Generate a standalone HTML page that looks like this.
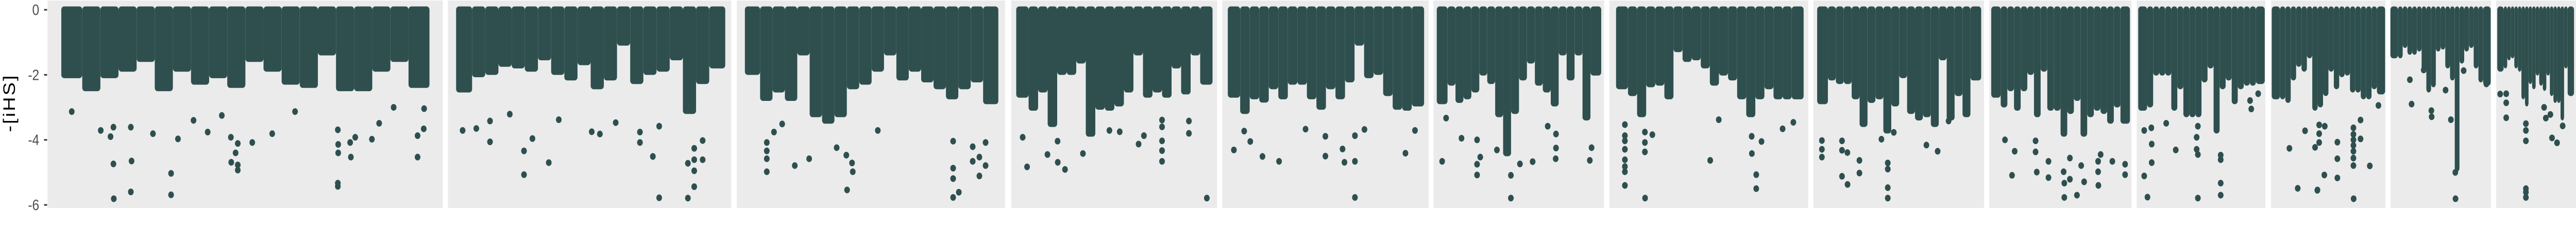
<!DOCTYPE html>
<html><head><meta charset="utf-8"><title>iHS facets</title>
<style>html,body{margin:0;padding:0;background:#fff;overflow:hidden;width:100%;height:100%;}svg{display:block;width:100vw;height:100vh;}</style></head>
<body>
<svg id="chart" viewBox="0 0 5905 472" preserveAspectRatio="none" xmlns="http://www.w3.org/2000/svg" font-family="'Liberation Sans', sans-serif">
<text x="0" y="0" transform="translate(34,200) rotate(-90)" text-anchor="middle" font-size="38" letter-spacing="3" fill="#000">-[iHS]</text>
<g id="yaxis"></g>
<g id="panels"></g>
</svg>
<script>
// ---- data ----
const yTicks = [0, -2, -4, -6];
const yTickLabels = ["0", "-2", "-4", "-6"];
const binIndex = [0,1,2,3,4,5,6,7,8,9,10,11,12,13,14,15,16,17,18,19];
const depth1 = [-2.0,-2.4,-2.0,-1.8,-1.5,-2.4,-1.8,-2.2,-2.0,-2.3,-1.5,-1.8,-2.2,-2.3,-1.3,-2.4,-2.4,-1.8,-1.5,-2.3];
const depth2 = [-2.44,-1.97,-1.9,-1.65,-1.7,-1.8,-1.45,-1.9,-2.07,-1.6,-2.34,-2.07,-1.0,-2.18,-1.9,-1.8,-1.45,-3.1,-2.18,-1.7];
const depth3 = [-1.9,-2.7,-2.44,-2.7,-1.3,-3.2,-3.4,-3.2,-2.34,-2.2,-1.8,-1.3,-2.07,-1.8,-2.13,-2.34,-2.65,-2.34,-2.13,-2.8];
const depth4 = [-2.6,-3.0,-2.44,-3.5,-1.9,-1.9,-1.55,-3.8,-2.97,-3.0,-2.87,-2.44,-1.3,-2.6,-2.44,-2.6,-1.7,-2.5,-1.3,-2.2];
const depth5 = [-2.6,-3.1,-2.65,-2.75,-2.34,-2.65,-2.2,-2.2,-2.65,-2.97,-2.34,-2.65,-2.13,-1.0,-2.0,-1.9,-2.55,-2.97,-3.0,-2.87];
const depth6 = [-2.8,-2.23,-2.76,-2.65,-2.44,-1.92,-2.18,-3.2,-4.4,-3.1,-2.07,-1.55,-2.23,-2.44,-2.87,-1.3,-2.07,-1.3,-3.3,-1.92];
const depth7 = [-2.34,-2.55,-3.2,-2.28,-2.23,-2.65,-1.2,-1.5,-1.45,-1.7,-2.23,-1.92,-2.07,-2.65,-3.2,-2.65,-2.34,-2.65,-2.65,-2.65];
const depth8 = [-2.8,-2.07,-2.18,-2.18,-2.65,-3.5,-2.76,-2.65,-3.7,-2.87,-2.0,-3.1,-3.3,-3.2,-3.5,-1.45,-3.3,-2.55,-3.2,-2.07];
const depth9 = [-2.6,-2.9,-2.4,-3.0,-2.4,-1.9,-3.2,-1.8,-3.0,-3.0,-3.8,-3.1,-2.7,-3.8,-3.2,-3.0,-3.1,-3.4,-2.9,-3.4];
const depth10 = [-3.0,-2.9,-1.92,-1.92,-1.92,-3.0,-2.34,-3.2,-3.2,-3.2,-2.13,-1.7,-3.7,-2.34,-2.07,-2.8,-2.34,-2.23,-2.23,-2.18];
const depth11 = [-2.65,-2.65,-2.76,-2.07,-1.65,-1.8,-1.39,-3.0,-2.9,-2.55,-1.8,-2.34,-1.97,-1.92,-2.44,-2.44,-2.65,-2.65,-2.34,-2.5];
const depth12 = [-1.39,-1.39,-1.07,-1.28,-1.28,-1.18,-1.8,-2.44,-2.28,-1.18,-1.12,-1.7,-2.07,-4.87,-1.55,-1.18,-1.07,-1.7,-2.13,-2.23];
const depth13 = [-1.8,-1.7,-1.45,-1.39,-1.7,-1.8,-2.65,-2.87,-2.18,-2.34,-1.92,-2.23,-2.39,-1.92,-2.55,-2.76,-2.76,-3.3,-1.7,-2.55];

const outPos1 = [13.7,18.4,18.6,13.6,29.5,29.5,75.5,75.5,75.6,75.6,79.1,97.5,97.5,99.2,47.9,47.9,46.1,47.3,47.9,51.9,46.0,31.4,24.5,10.1,12.8,13.6,18.4,39.6,57.4,80.3,84.9,86.9,75.5,78.9,2.1,63.7,99.3,90.9,43.5,35.7];
const outVal1 = [-5.81,-5.6,-4.65,-4.74,-5.03,-5.69,-5.43,-5.33,-4.4,-4.14,-4.53,-4.53,-3.87,-3.66,-4.93,-4.77,-4.69,-4.4,-4.11,-4.08,-3.92,-3.97,-3.81,-3.71,-3.9,-3.61,-3.61,-3.76,-3.81,-3.92,-3.98,-3.49,-3.69,-4.08,-3.13,-3.13,-3.04,-3.0,-3.25,-3.4];
const outPos2 = [76,86.9,89.3,89.3,86.9,89.3,92.5,89.3,92.5,73.6,24.7,24.7,34.1,27.9,11.8,68.7,68.7,1.4,6.6,53.5,50.4,76,37.9,59.5,11.8,19.3];
const outVal2 = [-5.78,-5.79,-5.44,-4.95,-4.72,-4.61,-4.61,-4.26,-4.02,-4.51,-5.07,-4.34,-4.70,-3.96,-4.06,-4.08,-3.76,-3.71,-3.65,-3.82,-3.75,-3.58,-3.38,-3.47,-3.42,-3.21];
const outPos3 = [40.1,82.9,82.9,82.9,85.2,93.5,90.8,93.5,96.0,90.8,96.0,42.4,42.1,39.8,82.9,52.5,35.9,7.7,7.7,7.7,7.7,19.0,24.8,10.6,13.9];
const outVal3 = [-5.54,-5.77,-5.19,-4.87,-5.61,-5.11,-4.66,-4.53,-4.79,-4.21,-4.08,-4.98,-4.71,-4.47,-4.04,-3.71,-4.24,-4.98,-4.58,-4.34,-4.08,-4.79,-4.58,-3.76,-3.51];
const outPos4 = [98.5,75,75,75,75,75,24.1,20.3,14.9,4.2,1.9,33.5,62.7,65.5,89.1,89.1,20.2,47.4,52.8];
const outVal4 = [-5.79,-4.66,-4.33,-4.03,-3.6,-3.39,-4.91,-4.69,-4.45,-4.83,-3.92,-4.42,-4.13,-3.87,-3.8,-3.42,-4.04,-3.71,-3.75];
const outPos5 = [65.2,59.7,65.2,58.7,49.7,25.4,16.7,1.7,10.3,49.7,65.2,91.7,96.7,7.1,39.3,70.2];
const outVal5 = [-5.77,-4.69,-4.66,-4.28,-4.5,-4.66,-4.51,-4.31,-4.05,-3.89,-3.87,-4.41,-3.71,-3.73,-3.67,-3.68];
const outPos6 = [44.9,44.9,23.6,23.6,25.6,50.6,58.6,1.6,36.1,73.1,73.3,94.6,95.7,73.3,23.6,13.8,4.1,68.1];
const outVal6 = [-5.79,-5.09,-5.08,-4.75,-4.53,-4.74,-4.67,-4.66,-4.31,-4.58,-4.25,-4.63,-4.24,-3.82,-4.0,-3.95,-3.33,-3.58];
const outPos7 = [14.4,3.3,3.3,3.3,3.3,3.3,3.3,3.3,14.3,14.3,14.3,18.4,75.5,75.5,73.1,73,78.4,50.2,54.9,95.9,90,3.3];
const outVal7 = [-5.79,-5.4,-4.98,-4.82,-4.61,-4.29,-4.03,-3.87,-4.37,-4.08,-3.76,-3.84,-5.5,-5.07,-4.42,-3.89,-4.05,-4.63,-3.38,-3.46,-3.66,-3.53];
const outPos8 = [42.8,42.8,42.8,42.8,17.4,13.9,24.9,24.9,17.3,13.9,13.9,1.2,1.2,1.2,38.8,67.2,74.3,46.6,81.2];
const outVal8 = [-5.79,-5.47,-4.9,-4.71,-5.37,-5.12,-5.02,-4.63,-4.39,-4.32,-4.03,-4.53,-4.29,-4.02,-3.98,-4.16,-4.35,-3.77,-3.42];
const outPos9 = [52.8,62.3,52.8,57,67.7,78.4,13.5,32.1,40.9,40.9,52.3,78.2,98.5,98.5,65.5,78.2,80.1,88.9,57,15.5,31.2,8.2,31.2];
const outVal9 = [-5.77,-5.7,-5.33,-5.21,-5.29,-5.4,-5.09,-4.99,-5.16,-4.66,-4.98,-4.98,-5.07,-4.75,-4.79,-4.66,-4.45,-4.66,-4.56,-4.35,-4.37,-4.0,-4.03];
const outPos10 = [5.3,47,65.9,65.9,2.6,8.8,8.8,2.6,8.5,28.7,47,46,46,47,65.9,65.9,90.2,91.2,96.9,20.8];
const outVal10 = [-5.76,-5.79,-5.7,-5.33,-5.11,-4.7,-4.13,-3.71,-3.63,-4.31,-4.45,-4.29,-3.92,-3.58,-4.61,-4.47,-2.79,-3.05,-2.58,-3.49];
const outPos11 = [73.4,39.8,46.2,58.3,58.3,58.3,73.2,73.2,73.2,73.2,73.2,73.2,73.2,88.4,79.8,37.6,41.4,41.4,41.4,46.6,79.8,96.4,21.5,39.7,28.3,13.8];
const outVal11 = [-5.81,-5.54,-5.08,-5.17,-4.58,-4.07,-4.79,-4.56,-4.35,-4.17,-4.0,-3.83,-3.63,-4.8,-3.97,-4.23,-4.08,-3.81,-3.54,-3.58,-3.39,-2.94,-5.49,-5.55,-3.72,-4.26];
const outPos12 = [65.8,65.6,40.6,40.3,19.4,17.6,55.3,60.9,32.2,74.4,98.4];
const outVal12 = [-5.81,-5.0,-3.29,-3.1,-2.9,-2.15,-2.47,-3.38,-1.85,-1.87,-2.28];
const outPos13 = [36.3,36.3,36.3,36.3,36.3,36.3,8.6,8.6,8.6,0.1,73,80.1,61.9,64.3,70.7,88,99.3];
const outVal13 = [-5.77,-5.61,-5.5,-4.03,-3.71,-3.5,-3.32,-2.86,-2.58,-2.59,-3.94,-4.09,-3.0,-3.33,-3.22,-3.57,-2.44];

const depths = [depth1,depth2,depth3,depth4,depth5,depth6,depth7,depth8,depth9,depth10,depth11,depth12,depth13];
const outPos = [outPos1,outPos2,outPos3,outPos4,outPos5,outPos6,outPos7,outPos8,outPos9,outPos10,outPos11,outPos12,outPos13];
const outVal = [outVal1,outVal2,outVal3,outVal4,outVal5,outVal6,outVal7,outVal8,outVal9,outVal10,outVal11,outVal12,outVal13];

// ---- layout ----
const panelL = [109,1027,1689,2318,2802,3286,3689,4157,4560,4898,5206,5480,5722];
const panelR = [1015,1676,2304,2790,3275,3677,4145,4548,4886,5193,5468,5710,5905];
const dataL = [147,1052,1714,2336,2821,3300,3711,4172,4571,4908,5214,5486,5731];
const dataR = [978,1656,2282,2773,3258,3664,4128,4535,4876,5185,5461,5703,5894];
const PT = 1, PB = 404, R = 6.5, COL = "#2F4F4F";
const NS = "http://www.w3.org/2000/svg";
function yScale(v){ return 19 + (0 - v) * 63.17; }
function xScale(p, pos){ return dataL[p] + (dataR[p]-dataL[p]) * pos / 100; }
function mk(tag, attrs){ const e = document.createElementNS(NS, tag); for (const k in attrs) e.setAttribute(k, attrs[k]); return e; }

const yaxis = document.getElementById('yaxis');
yTicks.forEach((t,i)=>{
  const tk = mk('line',{x1:101,x2:108,y1:yScale(t),y2:yScale(t),stroke:'#333',"stroke-width":3});
  
  
  yaxis.appendChild(tk);
  const lb = mk('text',{x:90,y:yScale(t)+10,"text-anchor":"end","font-size":29,fill:'#4D4D4D'});
  lb.textContent = yTickLabels[i];
  
  
  yaxis.appendChild(lb);
});

const panels = document.getElementById('panels');
for (let p=0; p<panelL.length; p++){
  const g = mk('g',{});
  
  
  const bg = mk('rect',{x:panelL[p],y:PT,width:panelR[p]-panelL[p],height:PB-PT,fill:'#EBEBEB'});
  
  
  g.appendChild(bg);
  const d = depths[p];
  binIndex.forEach(i=>{
    let x0 = xScale(p, i*5) - (i===0?R:0);
    let x1 = xScale(p, (i+1)*5) + (i===19?R:0);
    const top = yScale(0) - R, bot = yScale(d[i]) + R;
    const r = mk('rect',{x:x0,y:top,width:x1-x0,height:bot-top,rx:R,fill:COL});
    
    
    g.appendChild(r);
  });
  outPos[p].forEach((pos,k)=>{
    const c = mk('circle',{cx:xScale(p,pos),cy:yScale(outVal[p][k]),r:R,fill:COL});
    
    
    g.appendChild(c);
  });
  panels.appendChild(g);
}
</script>
</body></html>
